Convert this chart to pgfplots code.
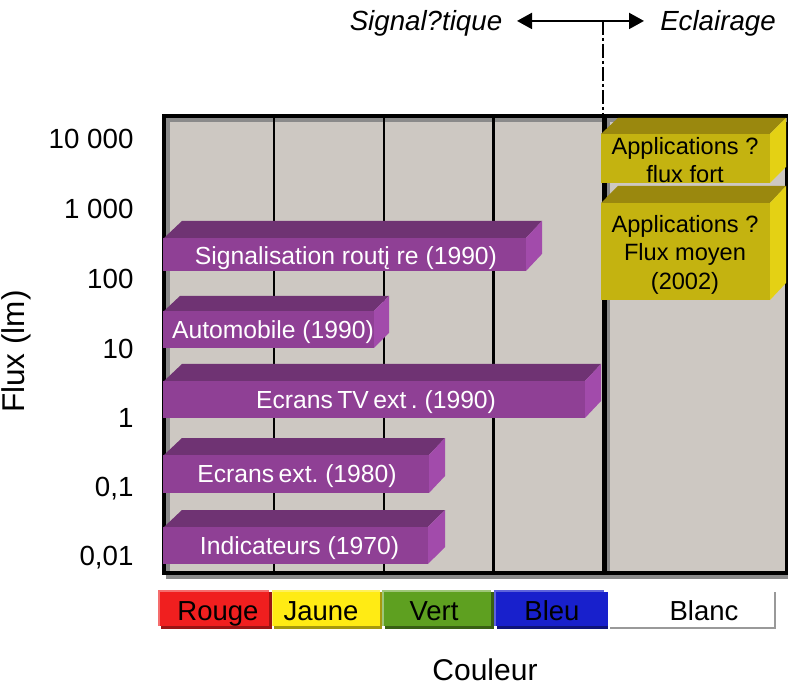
\documentclass[border=0pt]{standalone}
\usepackage{fontspec}
\setmainfont{Liberation Sans}
\usepackage{pgfplots}
\pgfplotsset{compat=1.18}
\usetikzlibrary{arrows.meta}

\definecolor{fond}{HTML}{CDC8C2}
\definecolor{ombre}{HTML}{8A8A8A}
\definecolor{viol}{HTML}{8F4095}
\definecolor{violh}{HTML}{6F3373}
\definecolor{viold}{HTML}{A24BAB}
\definecolor{jau}{HTML}{C4B310}
\definecolor{jauh}{HTML}{9A880E}
\definecolor{jaud}{HTML}{E4D114}
\definecolor{rougec}{HTML}{F01F1F}
\definecolor{jaunec}{HTML}{FFEB14}
\definecolor{vertc}{HTML}{5EA020}
\definecolor{bleuc}{HTML}{1820CC}

\tikzset{
    barlab/.style={inner sep=0pt,text height=17pt,text depth=0pt,text=white,font=\fontsize{24.7}{24.7}\selectfont},
    jaulab/.style={inner sep=0pt,text height=17pt,text depth=0pt,text=black,font=\fontsize{23.6}{23.6}\selectfont},
    coul/.style={inner sep=0pt,text height=19pt,text depth=0pt,text=black,font=\fontsize{27.5}{27.5}\selectfont},
    titre/.style={coul,font=\fontsize{27.7}{27.7}\itshape\selectfont},
}

% one filled polygon, given by its corners
\newcommand{\poly}[2]{\addplot[fill=#1,draw=none,forget plot] coordinates {#2} --cycle;}
\newcommand{\trait}[3]{\addplot[#1,line width=#2,forget plot] coordinates {#3};}

\begin{document}
\begin{tikzpicture}
\path[use as bounding box] (0,0) rectangle (788pt,688pt);
\begin{axis}[
    at={(164pt,115pt)},
    anchor=south west,
    scale only axis,
    width=623pt,
    height=457pt,
    xmin=164, xmax=787,
    ymin=-2.229, ymax=4.315,
    clip=false,
    axis line style={black,line width=4pt},
    axis background/.style={fill=fond},
    xtick=\empty,
    ytick={-2,-1,0,1,2,3,4},
    yticklabels={{0,01},{0,1},1,10,100,{1 000},{10 000}},
    major tick length=0pt,
    yticklabel style={font=\fontsize{27.7}{27.7}\selectfont,anchor=east,xshift=-27pt,yshift=-1pt},
    xlabel={Couleur},
    xlabel style={at={(axis cs:485,-3.61)},anchor=center,inner sep=0pt,font=\fontsize{30}{30}\selectfont},
    ylabel={Flux (lm)},
    ylabel style={at={(axis cs:16,0.94)},anchor=center,font=\fontsize{31.5}{31.5}\selectfont},
]
% inner shadow of the frame
\trait{ombre}{4pt}{(166,4.258) (787,4.258)}
\trait{ombre}{4pt}{(168,4.28) (168,-2.2)}
\trait{ombre}{4pt}{(166,-2.286) (788,-2.286)}
\trait{ombre}{4pt}{(608,4.258) (608,-2.2)}
% colour separators
\trait{black}{2pt}{(274,4.29) (274,-2.2)}
\trait{black}{2pt}{(384,4.29) (384,-2.2)}
\trait{black}{3pt}{(493,4.29) (493,-2.2)}
\trait{black}{5pt}{(604,4.29) (604,-2.2)}

% Indicateurs
\poly{violh}{(164,-1.570) (182,-1.327) (445,-1.327) (428,-1.570)}
\poly{viold}{(428,-1.570) (445,-1.327) (445,-1.857) (428,-2.100)}
\poly{viol}{(163,-1.570) (428,-1.570) (428,-2.100) (163,-2.100)}
% Ecrans ext.
\poly{violh}{(164,-0.539) (182,-0.296) (445,-0.296) (429,-0.539)}
\poly{viold}{(429,-0.539) (445,-0.296) (445,-0.840) (429,-1.083)}
\poly{viol}{(163,-0.539) (429,-0.539) (429,-1.083) (163,-1.083)}
% Ecrans TV
\poly{violh}{(164,0.520) (182,0.764) (601,0.764) (585,0.520)}
\poly{viold}{(585,0.520) (601,0.764) (601,0.234) (585,-0.009)}
\poly{viol}{(163,0.520) (585,0.520) (585,-0.009) (163,-0.009)}
% Automobile
\poly{violh}{(164,1.523) (180,1.738) (389,1.738) (374,1.523)}
\poly{viold}{(374,1.523) (389,1.738) (389,1.208) (374,0.993)}
\poly{viol}{(163,1.523) (374,1.523) (374,0.993) (163,0.993)}
% Signalisation
\poly{violh}{(164,2.568) (182,2.812) (542,2.812) (526,2.568)}
\poly{viold}{(526,2.568) (542,2.812) (542,2.340) (526,2.096)}
\poly{viol}{(163,2.568) (526,2.568) (526,2.096) (163,2.096)}
% Applications, flux fort
\poly{jauh}{(601,4.058) (618,4.287) (786,4.287) (770,4.058)}
\poly{jaud}{(770,4.058) (786,4.287) (786,3.585) (770,3.356)}
\poly{jau}{(601,4.058) (770,4.058) (770,3.356) (601,3.356)}
% Applications, flux moyen
\poly{jauh}{(601,3.069) (618,3.313) (786,3.313) (770,3.069)}
\poly{jaud}{(770,3.069) (786,3.313) (786,1.924) (770,1.680)}
\poly{jau}{(601,3.069) (770,3.069) (770,1.680) (601,1.680)}

\node[barlab] at (axis cs:346,2.310) {Signalisation routį re (1990)};
\node[barlab] at (axis cs:273,1.251) {Automobile (1990)};
\node[barlab] at (axis cs:376,0.248) {\spaceskip=4.5pt Ecrans TV ext . (1990)};
\node[barlab] at (axis cs:297,-0.811) {\spaceskip=4.5pt Ecrans ext. (1980)};
\node[barlab] at (axis cs:299.5,-1.842) {Indicateurs (1970)};
\node[jaulab] at (axis cs:685,3.886) {Applications ?};
\node[jaulab] at (axis cs:685,3.485) {flux fort};
\node[jaulab] at (axis cs:685,2.769) {Applications ?};
\node[jaulab] at (axis cs:685,2.368) {Flux moyen};
\node[jaulab] at (axis cs:685,1.952) {(2002)};

% colour strip under the axis
\poly{rougec!65!black}{(161,-2.501) (272,-2.501) (272,-3.031) (161,-3.031)}
\poly{rougec!65!white}{(158,-2.473) (269,-2.473) (269,-2.988) (158,-2.988)}
\poly{rougec}{(160,-2.501) (269,-2.501) (269,-2.988) (160,-2.988)}
\poly{jaunec!65!black}{(274,-2.501) (382,-2.501) (382,-3.031) (274,-3.031)}
\poly{jaunec!70!white}{(272,-2.473) (380,-2.473) (380,-2.988) (272,-2.988)}
\poly{jaunec}{(273,-2.501) (380,-2.501) (380,-2.988) (273,-2.988)}
\poly{vertc!60!black}{(385,-2.501) (494,-2.501) (494,-3.031) (385,-3.031)}
\poly{vertc!60!white}{(382,-2.473) (491,-2.473) (491,-2.988) (382,-2.988)}
\poly{vertc}{(384,-2.501) (491,-2.501) (491,-2.988) (384,-2.988)}
\poly{bleuc!60!black}{(497,-2.501) (608,-2.501) (608,-3.031) (497,-3.031)}
\poly{bleuc!70!white}{(494,-2.473) (604,-2.473) (604,-2.988) (494,-2.988)}
\poly{bleuc}{(496,-2.501) (608,-2.501) (608,-2.988) (496,-2.988)}
\trait{gray!80}{2pt}{(610,-3.017) (775,-3.017) (775,-2.501)}
\node[coul] at (axis cs:218,-2.773) {Rouge};
\node[coul] at (axis cs:321,-2.773) {Jaune};
\node[coul] at (axis cs:434,-2.773) {Vert};
\node[coul] at (axis cs:552,-2.773) {Bleu};
\node[coul] at (axis cs:704,-2.773) {Blanc};

% annotation above the axis
\addplot[black,line width=2pt,{Triangle[length=15pt,width=16pt]}-{Triangle[length=15pt,width=16pt]},forget plot] coordinates {(517,5.676) (644,5.676)};
\addplot[black,line width=1.5pt,dash pattern=on 14pt off 3pt on 3pt off 3pt,forget plot] coordinates {(603,5.676) (603,4.315)};
\node[titre] at (axis cs:426,5.676) {Signal?tique};
\node[titre] at (axis cs:718,5.676) {Eclairage};
\end{axis}
\end{tikzpicture}
\end{document}
